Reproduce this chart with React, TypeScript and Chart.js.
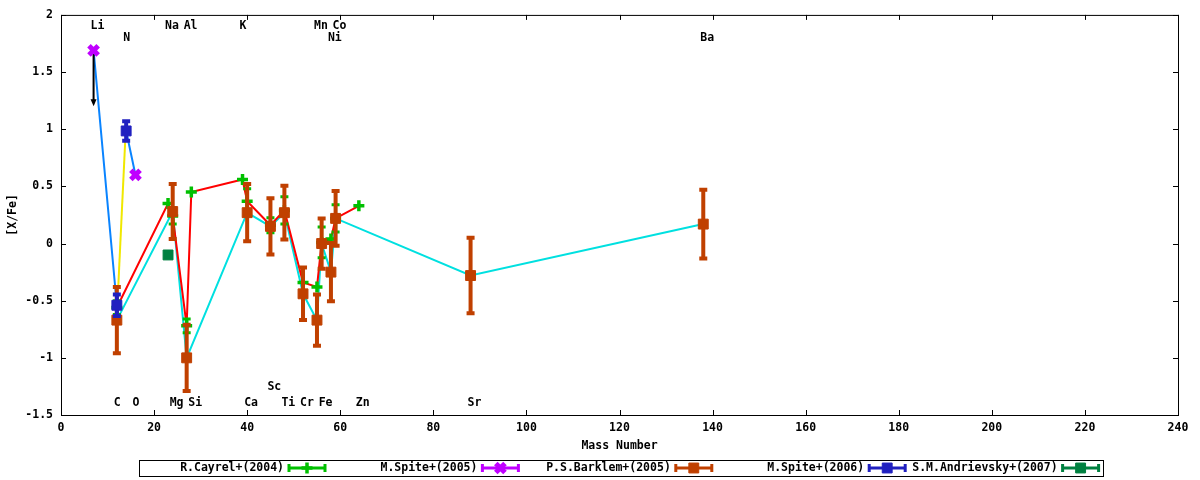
import { useEffect, useRef } from "react"
import { Chart, registerables } from "chart.js"
import { drawPoint } from "chart.js/helpers"

Chart.register(...registerables)

const FONT_FAMILY = '"DejaVu Sans Mono", "Liberation Mono", monospace'
const textFont = { family: FONT_FAMILY, size: 11.5, weight: "bold" as const }

// axis ticks
const massTicks = [0, 20, 40, 60, 80, 100, 120, 140, 160, 180, 200, 220, 240]
const ratioTicks = [-1.5, -1, -0.5, 0, 0.5, 1, 1.5, 2]

// R.Cayrel+(2004)
const cayrelMass = [12, 23, 24, 27, 28, 39, 40, 45, 48, 52, 55, 56, 58, 59, 64]
const cayrelValue = [-0.56, 0.35, 0.24, -0.72, 0.45, 0.56, 0.37, 0.16, 0.29, -0.34, -0.38, 0.01, 0.04, 0.22, 0.33]
const cayrelError = [0.06, 0, 0.07, 0.06, 0, 0, 0.11, 0.065, 0.12, 0, 0, 0.135, 0, 0.12, 0]

// M.Spite+(2005)  (Li is an upper limit)
const spite05Mass = [7, 16]
const spite05Value = [1.69, 0.6]
const spite05Limit = [1.2, null]

// P.S.Barklem+(2005)
const barklemMass = [12, 24, 27, 40, 45, 48, 52, 55, 56, 58, 59, 88, 138]
const barklemValue = [-0.67, 0.28, -1.0, 0.27, 0.15, 0.27, -0.44, -0.67, 0.0, -0.25, 0.22, -0.28, 0.17]
const barklemError = [0.29, 0.24, 0.29, 0.25, 0.245, 0.235, 0.23, 0.225, 0.22, 0.255, 0.24, 0.33, 0.3]

// M.Spite+(2006)
const spite06Mass = [12, 14]
const spite06Value = [-0.54, 0.985]
const spite06Error = [0.095, 0.085]

// S.M.Andrievsky+(2007)
const andrievskyMass = [23]
const andrievskyValue = [-0.1]

// extra connecting lines
const spiteLineMass = [7, 12, 13, 14, 16]
const spiteLineValue = [1.69, -0.54, null, 0.985, 0.6]
const yellowLineMass = [12.3, 13.8]
const yellowLineValue = [-0.38, 0.9]

// element names (row 0/1 = top, row 2/3 = bottom)
const elementNames = ["Li", "Na", "Al", "K", "Mn", "Co", "N", "Ni", "Ba", "Sc", "C", "O", "Mg", "Si", "Ca", "Ti", "Cr", "Fe", "Zn", "Sr"]
const elementMass = [7, 23, 27, 39, 55, 59, 14, 58, 138, 45, 12, 16, 24, 28, 40, 48, 52, 56, 64, 88]
const elementRow = [0, 0, 0, 0, 0, 0, 1, 1, 1, 2, 3, 3, 3, 3, 3, 3, 3, 3, 3, 3]
const rowY = [26, 38, 387, 403]

const lineSet = (mass: number[], value: (number | null)[], color: string, order: number) => ({
  data: mass.map((m, i) => ({ x: m, y: value[i] })),
  showLine: true,
  borderColor: color,
  borderWidth: 2,
  pointRadius: 0,
  order,
})

const markSet = (
  label: string,
  mass: number[],
  value: number[],
  errors: (number | null)[],
  color: string,
  pointStyle: string,
  radius: number,
  width: number,
  barWidth: number,
  order: number,
  limits: (number | null)[] = [],
) => ({
  label,
  data: mass.map((m, i) => ({ x: m, y: value[i], err: errors[i] || 0, limit: limits[i] ?? null })),
  showLine: false,
  pointStyle,
  pointRadius: radius,
  pointBorderWidth: width,
  pointBackgroundColor: color,
  pointBorderColor: color,
  errorColor: color,
  errorWidth: barWidth,
  legendSample: true,
  order,
})

const errorBarPlugin = {
  id: "errorBars",
  beforeDatasetDraw(chart: any, args: any) {
    const ds = chart.data.datasets[args.index]
    if (!ds.errorColor) return
    const { ctx } = chart
    const x = chart.scales.x
    const y = chart.scales.y
    ctx.save()
    ds.data.forEach((p: any) => {
      const px = x.getPixelForValue(p.x)
      if (p.err) {
        const top = y.getPixelForValue(p.y + p.err)
        const bot = y.getPixelForValue(p.y - p.err)
        ctx.strokeStyle = ds.errorColor
        ctx.lineWidth = ds.errorWidth
        ctx.beginPath()
        ctx.moveTo(px, top)
        ctx.lineTo(px, bot)
        ctx.moveTo(px - 4, top)
        ctx.lineTo(px + 4, top)
        ctx.moveTo(px - 4, bot)
        ctx.lineTo(px + 4, bot)
        ctx.stroke()
      }
      if (p.limit != null) {
        const from = y.getPixelForValue(p.y)
        const to = y.getPixelForValue(p.limit)
        ctx.strokeStyle = "#000"
        ctx.fillStyle = "#000"
        ctx.lineWidth = 2
        ctx.beginPath()
        ctx.moveTo(px, from)
        ctx.lineTo(px, to - 5)
        ctx.stroke()
        ctx.beginPath()
        ctx.moveTo(px - 3, to - 7)
        ctx.lineTo(px + 3, to - 7)
        ctx.lineTo(px, to)
        ctx.closePath()
        ctx.fill()
      }
    })
    ctx.restore()
  },
}

const framePlugin = {
  id: "frame",
  beforeDatasetsDraw(chart: any) {
    const { ctx, chartArea: a } = chart
    const x = chart.scales.x
    const y = chart.scales.y
    ctx.save()
    ctx.strokeStyle = "#000"
    ctx.lineWidth = 1
    ctx.strokeRect(a.left + 0.5, a.top + 0.5, a.right - a.left, a.bottom - a.top)
    ctx.beginPath()
    massTicks.forEach((v) => {
      const px = Math.round(x.getPixelForValue(v)) + 0.5
      ctx.moveTo(px, a.bottom)
      ctx.lineTo(px, a.bottom - 5)
      ctx.moveTo(px, a.top)
      ctx.lineTo(px, a.top + 5)
    })
    ratioTicks.forEach((v) => {
      const py = Math.round(y.getPixelForValue(v)) + 0.5
      ctx.moveTo(a.left, py)
      ctx.lineTo(a.left + 5, py)
      ctx.moveTo(a.right, py)
      ctx.lineTo(a.right - 5, py)
    })
    ctx.stroke()
    ctx.restore()
  },
  afterDatasetsDraw(chart: any) {
    const { ctx } = chart
    const x = chart.scales.x
    ctx.save()
    ctx.fillStyle = "#000"
    ctx.font = `bold ${textFont.size}px ${FONT_FAMILY}`
    ctx.textAlign = "left"
    ctx.textBaseline = "middle"
    elementNames.forEach((name, i) => {
      ctx.fillText(name, x.getPixelForValue(elementMass[i]) - 3, rowY[elementRow[i]])
    })
    ctx.restore()
  },
  afterDraw(chart: any) {
    const { ctx } = chart
    const boxTop = 460
    const midY = 468
    ctx.save()
    ctx.strokeStyle = "#000"
    ctx.lineWidth = 1
    ctx.strokeRect(139.5, boxTop + 0.5, 964, 16)
    ctx.font = `bold ${textFont.size}px ${FONT_FAMILY}`
    ctx.textAlign = "right"
    ctx.textBaseline = "middle"
    const samples = chart.data.datasets.filter((d: any) => d.legendSample)
    samples.forEach((d: any, i: number) => {
      const left = 289 + i * 193.4
      const right = left + 36
      ctx.fillStyle = "#000"
      ctx.fillText(d.label, left - 5, midY)
      ctx.strokeStyle = d.errorColor
      ctx.fillStyle = d.errorColor
      ctx.lineWidth = 3
      ctx.beginPath()
      ctx.moveTo(left, midY)
      ctx.lineTo(right, midY)
      ctx.moveTo(left, midY - 4)
      ctx.lineTo(left, midY + 4)
      ctx.moveTo(right, midY - 4)
      ctx.lineTo(right, midY + 4)
      ctx.stroke()
      ctx.lineWidth = d.pointBorderWidth
      drawPoint(ctx, { pointStyle: d.pointStyle, rotation: 0, radius: d.pointRadius, borderWidth: d.pointBorderWidth }, (left + right) / 2, midY)
    })
    ctx.restore()
  },
}

export default function App() {
  const canvasRef = useRef<HTMLCanvasElement>(null)
  const chartInstance = useRef<Chart | null>(null)

  useEffect(() => {
    if (!canvasRef.current) return
    if (chartInstance.current) chartInstance.current.destroy()

    chartInstance.current = new Chart(canvasRef.current, {
      type: "scatter",
      data: {
        datasets: [
          lineSet(barklemMass, barklemValue, "#00e0e0", 10),
          lineSet(cayrelMass, cayrelValue, "#ff0000", 9),
          lineSet(yellowLineMass, yellowLineValue, "#f0e800", 8),
          lineSet(spiteLineMass, spiteLineValue, "#0a84ff", 7),
          markSet("R.Cayrel+(2004)", cayrelMass, cayrelValue, cayrelError, "#00c000", "cross", 5.5, 3.5, 3, 6),
          markSet("M.Spite+(2005)", spite05Mass, spite05Value, [], "#c000ff", "crossRot", 6.5, 5, 3, 5, spite05Limit),
          markSet("P.S.Barklem+(2005)", barklemMass, barklemValue, barklemError, "#c04000", "rect", 7, 1, 4, 4),
          markSet("M.Spite+(2006)", spite06Mass, spite06Value, spite06Error, "#2020c0", "rect", 7, 1, 4, 3),
          markSet("S.M.Andrievsky+(2007)", andrievskyMass, andrievskyValue, [], "#008040", "rect", 7, 1, 4, 2),
        ] as any,
      },
      options: {
        animation: false,
        responsive: true,
        maintainAspectRatio: false,
        events: [],
        layout: { padding: { top: 14, right: 22, left: 0, bottom: 0 } },
        plugins: {
          legend: { display: false },
          tooltip: { enabled: false },
        },
        scales: {
          x: {
            type: "linear",
            min: 0,
            max: 240,
            afterBuildTicks: (s: any) => {
              s.ticks = massTicks.map((v) => ({ value: v }))
            },
            afterFit: (s: any) => {
              s.height = 65
            },
            grid: { display: false, drawTicks: false },
            border: { display: false },
            ticks: { padding: 6, color: "#000", font: textFont, maxRotation: 0, autoSkip: false, callback: (v: any) => String(v) },
            title: { display: true, text: "Mass Number", color: "#000", font: textFont, padding: { top: 0, bottom: 27 } },
          },
          y: {
            type: "linear",
            min: -1.5,
            max: 2,
            afterBuildTicks: (s: any) => {
              s.ticks = ratioTicks.map((v) => ({ value: v }))
            },
            afterFit: (s: any) => {
              s.width = 61
            },
            grid: { display: false, drawTicks: false },
            border: { display: false },
            ticks: { padding: 8, color: "#000", font: textFont, autoSkip: false, callback: (v: any) => String(v) },
            title: { display: true, text: "[X/Fe]", color: "#000", font: textFont, padding: { top: 6, bottom: 0 } },
          },
        },
      },
      plugins: [errorBarPlugin, framePlugin],
    } as any)

    return () => {
      if (chartInstance.current) {
        chartInstance.current.destroy()
        chartInstance.current = null
      }
    }
  }, [])

  return (
    <div style={{ position: "fixed", left: 0, top: 0, width: 1200, height: 480, background: "#fff" }}>
      <canvas ref={canvasRef}></canvas>
    </div>
  )
}
